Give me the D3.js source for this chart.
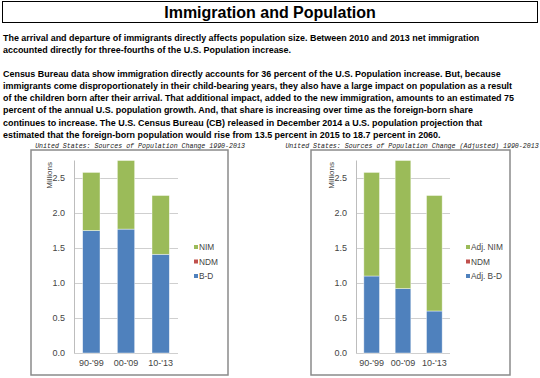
<!DOCTYPE html>
<html>
<head>
<meta charset="utf-8">
<script src="https://cdn.jsdelivr.net/npm/d3@7"></script>
<style>
  body { margin: 0; background: #fff; }
  svg { display: block; }
</style>
</head>
<body>
<svg id="page" width="540" height="378"></svg>
<script>
// Données (millions)
const periods = ["90-'99", "00-'09", "10-'13"];
const bd = [1.75, 1.77, 1.41];
const ndm = [0, 0, 0];
const nim = [0.83, 0.98, 0.84];
const adjBd = [1.10, 0.92, 0.60];
const adjNim = [1.48, 1.83, 1.65];
const yTicks = [0, 0.5, 1.0, 1.5, 2.0, 2.5];

const title = "Immigration and Population";
const para1 = [
  "The arrival and departure of immigrants directly affects population size. Between 2010 and 2013 net immigration",
  "accounted directly for three-fourths of the U.S. Population increase."
];
const para2 = [
  "Census Bureau data show immigration directly accounts for 36 percent of the U.S. Population increase. But, because",
  "immigrants come disproportionately in their child-bearing years, they also have a large impact on population as a result",
  "of the children born after their arrival. That additional impact, added to the new immigration, amounts to an estimated 75",
  "percent of the annual U.S. population growth. And, that share is increasing over time as the foreign-born share",
  "continues to increase. The U.S. Census Bureau (CB) released in December 2014 a U.S. population projection that",
  "estimated that the foreign-born population would rise from 13.5 percent in 2015 to 18.7 percent in 2060."
];

var svg = d3.select("#page");

// Titre encadré
svg.append("rect")
  .attr("x", 2.5).attr("y", 1.5).attr("width", 535).attr("height", 21)
  .attr("fill", "none").attr("stroke", "#000").attr("stroke-width", 1);
svg.append("text")
  .attr("x", 270).attr("y", 18)
  .attr("text-anchor", "middle")
  .attr("font-family", "Liberation Sans, Arial, sans-serif")
  .attr("font-weight", "bold").attr("font-size", 16)
  .text(title);

// Paragraphes
function drawParagraph(lines, y0) {
  svg.append("g").selectAll("text")
    .data(lines).enter().append("text")
    .attr("x", 3)
    .attr("y", (d, i) => y0 + i * 12.3)
    .attr("font-family", "Liberation Sans, Arial, sans-serif")
    .attr("font-weight", "bold").attr("font-size", 8.95)
    .attr("fill", "#000")
    .text(d => d);
}
drawParagraph(para1, 41);
drawParagraph(para2, 76.5);

// Graphique empilé
function drawChart(cfg) {
  var g = svg.append("g");

  g.append("text")
    .attr("x", cfg.captionX).attr("y", 148)
    .attr("text-anchor", "middle")
    .attr("font-family", "Liberation Mono, Courier New, monospace")
    .attr("font-style", "italic").attr("font-size", 6.6)
    .attr("fill", "#222")
    .text(cfg.caption);

  g.append("rect")
    .attr("x", cfg.frame[0]).attr("y", 150)
    .attr("width", cfg.frame[1] - cfg.frame[0]).attr("height", 225)
    .attr("fill", "#fff").attr("stroke", "#8a8a8a").attr("stroke-width", 1.5);

  var x = d3.scaleBand()
    .domain(periods)
    .range(cfg.plot)
    .paddingInner(0.5).paddingOuter(0.25);

  var y = d3.scaleLinear()
    .domain([0, 2.75])
    .range([353, 160.5]);

  // Grille
  g.selectAll(".grid")
    .data(yTicks).enter().append("line")
    .attr("x1", cfg.plot[0]).attr("x2", cfg.plot[1])
    .attr("y1", d => Math.round(y(d)) + 0.5).attr("y2", d => Math.round(y(d)) + 0.5)
    .attr("stroke", "#cfcfcf").attr("stroke-width", 1);

  // Barres empilées
  var rows = periods.map((p, i) => ({ period: p, bd: cfg.bd[i], ndm: cfg.ndm[i], nim: cfg.nim[i] }));
  var stack = d3.stack().keys(["bd", "ndm", "nim"])(rows);
  var color = { bd: "#4f81bd", ndm: "#c0504d", nim: "#9bbb59" };

  g.selectAll(".serie")
    .data(stack).enter().append("g")
    .attr("fill", d => color[d.key])
    .selectAll("rect")
    .data(d => d).enter().append("rect")
    .attr("x", d => x(d.data.period))
    .attr("y", d => y(d[1]))
    .attr("width", x.bandwidth())
    .attr("height", d => y(d[0]) - y(d[1]))
    .attr("stroke", "#ffffff").attr("stroke-opacity", 0.6).attr("stroke-width", 0.7);

  // Axe vertical
  g.append("line")
    .attr("x1", cfg.plot[0] + 0.5).attr("x2", cfg.plot[0] + 0.5)
    .attr("y1", y(2.75)).attr("y2", y(0))
    .attr("stroke", "#bdbdbd");

  g.append("g")
    .attr("transform", `translate(${cfg.plot[0] - 6},0)`)
    .call(d3.axisLeft(y).tickValues(yTicks).tickSize(0).tickFormat(d3.format(".1f")))
    .call(a => a.select(".domain").remove())
    .call(a => a.selectAll("text")
      .attr("font-family", "Liberation Sans, Arial, sans-serif")
      .attr("font-size", 9).attr("fill", "#444"));

  g.append("g")
    .attr("transform", `translate(0,${y(0) + 4})`)
    .call(d3.axisBottom(x).tickSize(0))
    .call(a => a.select(".domain").remove())
    .call(a => a.selectAll("text")
      .attr("font-family", "Liberation Sans, Arial, sans-serif")
      .attr("font-size", 9).attr("fill", "#444"));

  g.append("text")
    .attr("transform", `translate(${cfg.plot[0] - 22},162) rotate(-90)`)
    .attr("text-anchor", "end")
    .attr("font-family", "Liberation Sans, Arial, sans-serif")
    .attr("font-size", 8).attr("fill", "#444")
    .text("Millions");

  // Légende
  var legend = [
    { key: "nim", label: cfg.labels[2] },
    { key: "ndm", label: cfg.labels[1] },
    { key: "bd", label: cfg.labels[0] }
  ];
  var lg = g.selectAll(".leg")
    .data(legend).enter().append("g")
    .attr("transform", (d, i) => `translate(${cfg.legendX},${247 + i * 14.5})`);
  lg.append("rect")
    .attr("x", 0).attr("y", -2).attr("width", 4).attr("height", 4)
    .attr("fill", d => color[d.key]);
  lg.append("text")
    .attr("x", 5).attr("y", 3)
    .attr("font-family", "Liberation Sans, Arial, sans-serif")
    .attr("font-size", 8.3).attr("fill", "#444")
    .text(d => d.label);
}

drawChart({
  caption: "United States: Sources of Population Change 1990-2013",
  captionX: 140,
  frame: [31, 228],
  plot: [74, 178],
  legendX: 194,
  bd: bd, ndm: ndm, nim: nim,
  labels: ["B-D", "NDM", "NIM"]
});

drawChart({
  caption: "United States: Sources of Population Change (Adjusted) 1990-2013",
  captionX: 412,
  frame: [311, 510],
  plot: [356, 450],
  legendX: 466,
  bd: adjBd, ndm: ndm, nim: adjNim,
  labels: ["Adj. B-D", "NDM", "Adj. NIM"]
});
</script>
</body>
</html>
